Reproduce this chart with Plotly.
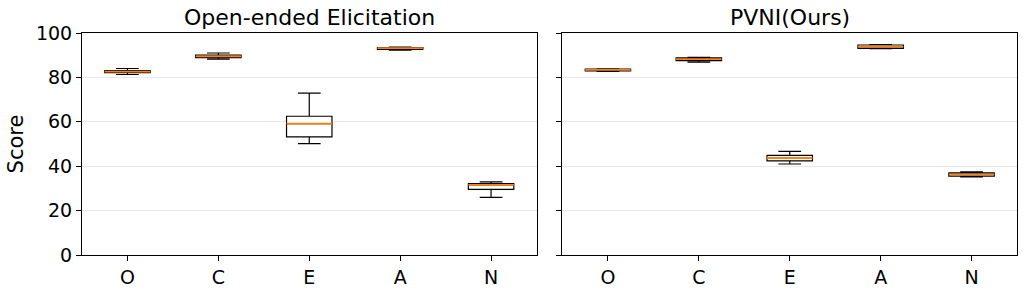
import plotly.graph_objects as go

traits = ["O", "C", "E", "A", "N"]
panel_titles = ["Open-ended Elicitation", "PVNI(Ours)"]

# Open-ended Elicitation
oe_min = [81.3, 88.2, 50.2, 92.3, 26.0]
oe_q1 = [82.1, 88.9, 53.2, 92.6, 29.6]
oe_med = [82.6, 89.5, 59.2, 93.2, 31.6]
oe_q3 = [83.1, 90.1, 62.5, 93.4, 32.2]
oe_max = [84.0, 91.0, 72.9, 93.6, 32.9]

# PVNI(Ours)
pv_min = [82.7, 86.9, 41.0, 92.9, 35.2]
pv_q1 = [82.9, 87.6, 42.4, 93.1, 35.5]
pv_med = [83.4, 88.2, 43.7, 93.9, 36.3]
pv_q3 = [83.7, 88.8, 44.9, 94.6, 37.0]
pv_max = [83.9, 89.0, 46.7, 94.8, 37.4]

panels = [
    (oe_min, oe_q1, oe_med, oe_q3, oe_max),
    (pv_min, pv_q1, pv_med, pv_q3, pv_max),
]

fig = go.Figure()
positions = list(range(1, len(traits) + 1))
FONT = "DejaVu Sans"

for p, (mn, q1, md, q3, mx) in enumerate(panels):
    xa = "x" if p == 0 else "x2"
    ya = "y" if p == 0 else "y2"
    fig.add_trace(go.Box(
        x=positions, q1=q1, median=md, q3=q3, lowerfence=mn, upperfence=mx,
        width=0.5, whiskerwidth=0.5, fillcolor="white",
        line=dict(color="black", width=1.2), boxpoints=False,
        xaxis=xa, yaxis=ya, showlegend=False, hoverinfo="skip",
    ))
    for i, pos in enumerate(positions):
        fig.add_trace(go.Scatter(
            x=[pos - 0.25, pos + 0.25], y=[md[i], md[i]], mode="lines",
            line=dict(color="#ff7f0e", width=1.8), xaxis=xa, yaxis=ya,
            showlegend=False, hoverinfo="skip",
        ))

W, H = 1027, 297
ml, mr, mt, mb = 82, 9, 33, 37
pw = W - ml - mr
d1 = (537 - ml) / pw
d2 = (563 - ml) / pw

axis_common = dict(
    showline=True, linecolor="black", linewidth=1, mirror=True,
    ticks="outside", ticklen=5, tickcolor="black",
    tickfont=dict(family=FONT, size=19, color="black"),
    zeroline=False,
)
xcommon = dict(axis_common, range=[0.5, 5.5], tickvals=positions, ticktext=traits, showgrid=False)
ycommon = dict(axis_common, range=[0, 100], tickvals=[0, 20, 40, 60, 80, 100],
               showgrid=True, gridcolor="#e8e8e8", gridwidth=0.8)

fig.update_layout(
    width=W, height=H,
    margin=dict(l=ml, r=mr, t=mt, b=mb),
    plot_bgcolor="white", paper_bgcolor="white",
    hovermode=False,
    xaxis=dict(xcommon, domain=[0, d1], anchor="y"),
    xaxis2=dict(xcommon, domain=[d2, 1], anchor="y2"),
    yaxis=dict(ycommon, domain=[0, 1], anchor="x",
               title=dict(text="Score", font=dict(family=FONT, size=21, color="black"), standoff=6)),
    yaxis2=dict(ycommon, domain=[0, 1], anchor="x2", showticklabels=False),
    annotations=[
        dict(text=panel_titles[0], x=d1 / 2, y=1, xref="paper", yref="paper",
             xanchor="center", yanchor="bottom", yshift=1, showarrow=False,
             font=dict(family=FONT, size=22, color="black")),
        dict(text=panel_titles[1], x=(d2 + 1) / 2, y=1, xref="paper", yref="paper",
             xanchor="center", yanchor="bottom", yshift=1, showarrow=False,
             font=dict(family=FONT, size=22, color="black")),
    ],
)

fig.write_html("out.html", config={"displayModeBar": False},
               post_script="document.body.style.margin='0';")
